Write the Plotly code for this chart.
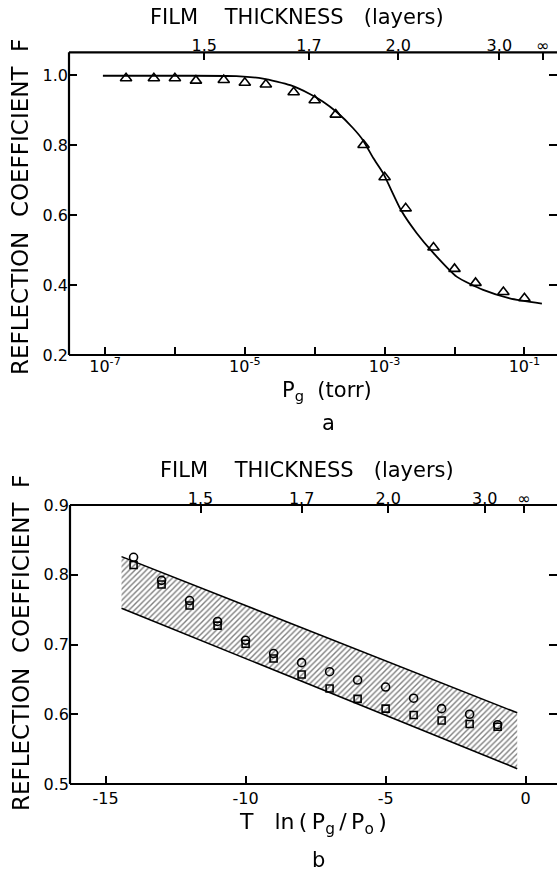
import plotly.graph_objects as go

# ---------------- Panel a data ----------------
pg_torr = [2e-7, 5e-7, 1e-6, 2e-6, 5e-6, 1e-5, 2e-5, 5e-5, 1e-4, 2e-4,
           5e-4, 1e-3, 2e-3, 5e-3, 1e-2, 2e-2, 5e-2, 1e-1]
f_measured = [0.991, 0.991, 0.991, 0.984, 0.986, 0.978, 0.973, 0.951, 0.928, 0.887,
              0.800, 0.708, 0.619, 0.507, 0.446, 0.406, 0.380, 0.362]
curve_log_pg = [-7.03, -6.0, -5.12, -4.74, -4.35, -4.07, -3.88, -3.69, -3.45, -3.31,
                -3.16, -3.02, -2.76, -2.54, -2.30, -1.97, -1.59, -1.21, -0.75]
curve_f = [0.998, 0.998, 0.997, 0.990, 0.971, 0.946, 0.924, 0.895, 0.848, 0.814,
           0.762, 0.719, 0.612, 0.548, 0.491, 0.424, 0.386, 0.362, 0.347]
thickness_labels = ["1.5", "1.7", "2.0", "3.0", "\u221e"]
thickness_log_pg = [-5.581, -4.082, -2.804, -1.359, -0.738]
labelled_exponents = [-7, -5, -3, -1]
unlabelled_exponents = [-6, -4, -2]

# ---------------- Panel b data ----------------
t_ln_ratio = [-14, -13, -12, -11, -10, -9, -8, -7, -6, -5, -4, -3, -2, -1]
f_circles = [0.825, 0.792, 0.763, 0.733, 0.706, 0.687, 0.674, 0.661, 0.649, 0.639,
             0.623, 0.608, 0.600, 0.585]
f_squares = [0.814, 0.786, 0.756, 0.727, 0.701, 0.680, 0.657, 0.637, 0.622, 0.608,
             0.599, 0.591, 0.586, 0.582]
band_x = [-14.43, -0.30]
band_upper = [0.826, 0.602]
band_lower = [0.752, 0.522]
thickness_t_ln = [-11.61, -8.0, -4.91, -1.46, -0.06]

FONT = "DejaVu Sans"
TXT = dict(family=FONT, size=16, color="black")
TITLE = dict(family=FONT, size=21, color="black")
W, H = 557, 876

fig = go.Figure()

# Panel a
fig.add_trace(go.Scatter(x=[10 ** v for v in curve_log_pg], y=curve_f, mode="lines",
                         line=dict(color="black", width=1.8, shape="spline", smoothing=0.6),
                         xaxis="x", yaxis="y", showlegend=False, hoverinfo="skip"))
fig.add_trace(go.Scatter(x=pg_torr, y=f_measured, mode="markers",
                         marker=dict(symbol="triangle-up-open", size=10, color="black",
                                     line=dict(width=1.6)),
                         xaxis="x", yaxis="y", showlegend=False))
fig.add_trace(go.Scatter(x=pg_torr, y=f_measured, mode="markers", opacity=0,
                         xaxis="x3", yaxis="y3", showlegend=False, hoverinfo="skip"))

# Panel b
fig.add_trace(go.Scatter(x=[band_x[0], band_x[1], band_x[1], band_x[0]],
                         y=[band_upper[0], band_upper[1], band_lower[1], band_lower[0]],
                         fill="toself", mode="lines", line=dict(width=0, color="black"),
                         fillcolor="white",
                         fillpattern=dict(shape="/", size=4, solidity=0.35,
                                          fgcolor="black", bgcolor="white"),
                         xaxis="x2", yaxis="y2", showlegend=False, hoverinfo="skip"))
fig.add_trace(go.Scatter(x=band_x, y=band_upper, mode="lines",
                         line=dict(color="black", width=1.6),
                         xaxis="x2", yaxis="y2", showlegend=False, hoverinfo="skip"))
fig.add_trace(go.Scatter(x=band_x, y=band_lower, mode="lines",
                         line=dict(color="black", width=1.6),
                         xaxis="x2", yaxis="y2", showlegend=False, hoverinfo="skip"))
fig.add_trace(go.Scatter(x=t_ln_ratio, y=f_circles, mode="markers",
                         marker=dict(symbol="circle-open", size=8, color="black",
                                     line=dict(width=1.6)),
                         xaxis="x2", yaxis="y2", showlegend=False))
fig.add_trace(go.Scatter(x=t_ln_ratio, y=f_squares, mode="markers",
                         marker=dict(symbol="square-open", size=7, color="black",
                                     line=dict(width=1.6)),
                         xaxis="x2", yaxis="y2", showlegend=False))
fig.add_trace(go.Scatter(x=t_ln_ratio, y=f_circles, mode="markers", opacity=0,
                         xaxis="x4", yaxis="y4", showlegend=False, hoverinfo="skip"))

dom_a_y = [1 - 355 / H, 1 - 52.3 / H]
dom_b_y = [1 - 784 / H, 1 - 505 / H]
dom_a_x = [69 / W, 1]
dom_b_x = [70 / W, 1]

base = dict(showgrid=False, zeroline=False, ticks="inside", ticklen=8, tickwidth=1.5,
            tickcolor="black", tickfont=TXT, showline=False)

range_a_x = [-7.515, -0.534]
range_a_y = [0.2, 1.065]
range_b_x = [-16.27, 1.12]
range_b_y = [0.5, 0.9]

fig.update_layout(
    width=W, height=H, margin=dict(l=0, r=0, t=0, b=0, autoexpand=False),
    paper_bgcolor="white", plot_bgcolor="white",
    font=TXT,
    xaxis=dict(base, type="log", domain=dom_a_x, range=range_a_x, anchor="y",
               tickvals=[10 ** e for e in labelled_exponents],
               ticktext=["10<sup>%d</sup>" % e for e in labelled_exponents],
               minor=dict(tickvals=[10 ** e for e in unlabelled_exponents],
                          ticks="inside", ticklen=8, tickwidth=1.5, tickcolor="black",
                          showgrid=False)),
    yaxis=dict(base, domain=dom_a_y, range=range_a_y, anchor="x",
               tickvals=[0.2, 0.4, 0.6, 0.8, 1.0],
               ticktext=["0.2", "0.4", "0.6", "0.8", "1.0"]),
    xaxis3=dict(base, type="log", overlaying="x", side="top", anchor="y", range=range_a_x,
                ticklabelstandoff=-3,
                tickvals=[10 ** v for v in thickness_log_pg], ticktext=thickness_labels),
    yaxis3=dict(base, overlaying="y", side="right", anchor="x", range=range_a_y,
                showticklabels=False, tickvals=[0.4, 0.6, 0.8, 1.0]),
    xaxis2=dict(base, domain=dom_b_x, range=range_b_x, anchor="y2",
                ticklabelstandoff=3, tickvals=[-15, -10, -5, 0],
                ticktext=["-15", "-10", "-5", "0"]),
    yaxis2=dict(base, domain=dom_b_y, range=range_b_y, anchor="x2",
                tickvals=[0.5, 0.6, 0.7, 0.8, 0.9],
                ticktext=["0.5", "0.6", "0.7", "0.8", "0.9"]),
    xaxis4=dict(base, overlaying="x2", side="top", anchor="y2", range=range_b_x,
                ticklabelstandoff=-3,
                tickvals=thickness_t_ln, ticktext=thickness_labels),
    yaxis4=dict(base, overlaying="y2", side="right", anchor="x2", range=range_b_y,
                showticklabels=False, tickvals=[0.6, 0.7, 0.8]),
)

# frame lines (left, bottom, top) of each panel
for xr, yr in (("x domain", "y domain"), ("x2 domain", "y2 domain")):
    for x0, y0, x1, y1 in ((0, 0, 1, 0), (0, 0, 0, 1), (0, 1, 1, 1)):
        fig.add_shape(type="line", xref=xr, yref=yr, x0=x0, y0=y0, x1=x1, y1=y1,
                      line=dict(color="black", width=2.2), layer="above")

s2 = "\u00a0" * 2
s3 = "\u00a0" * 3
s4 = "\u00a0" * 4
th = "\u2009"
ytitle = "REFLECTION" + s2 + "COEFFICIENT" + s2 + "F"
ann = [
    dict(text="FILM" + s4 + "THICKNESS" + s3 + "(layers)", x=297 / W, y=1 - 17 / H),
    dict(text="FILM" + s4 + "THICKNESS" + s3 + "(layers)", x=307 / W, y=1 - 470 / H),
    dict(text="P<sub>g</sub>" + s2 + "(torr)", x=327 / W, y=1 - 391 / H),
    dict(text="a", x=328 / W, y=1 - 423 / H),
    dict(text="T" + s3 + "ln" + th + "(" + th + "P<sub>g</sub>" + th + "/" + th
         + "P<sub>o</sub>" + th + ")", x=313 / W, y=1 - 823 / H,
         font=dict(family=FONT, size=22, color="black")),
    dict(text="b", x=318 / W, y=1 - 860 / H),
    dict(text=ytitle, x=20 / W, y=1 - 207 / H, textangle=-90,
         font=dict(family=FONT, size=23, color="black")),
    dict(text=ytitle, x=21 / W, y=1 - 643 / H, textangle=-90,
         font=dict(family=FONT, size=23, color="black")),
]
for a in ann:
    a.setdefault("font", TITLE)
    fig.add_annotation(xref="paper", yref="paper", showarrow=False,
                       xanchor="center", yanchor="middle", **a)

fig.write_html("out.html")
